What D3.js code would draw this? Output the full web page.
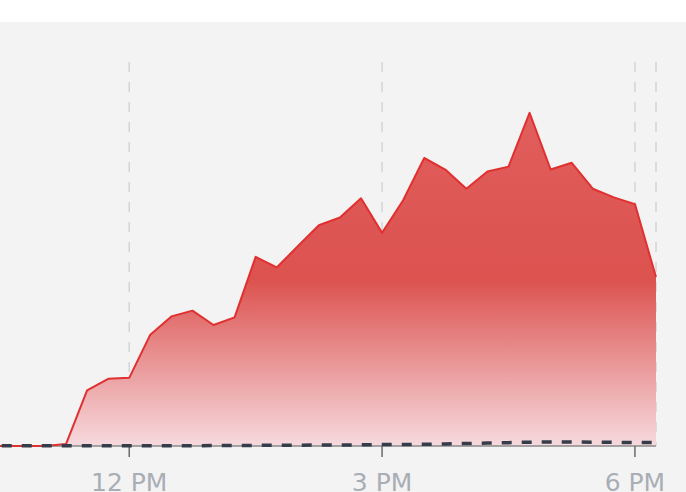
<!DOCTYPE html>
<html>
<head>
<meta charset="utf-8">
<script src="https://cdn.jsdelivr.net/npm/d3@7"></script>
<style>
    body { margin: 0; background: #ffffff; }
    .tick-label { font-family: "DejaVu Sans", sans-serif; font-size: 25px; fill: #a9adb5; }
</style>
</head>
<body>
<div id="chart"></div>
<script>
// quarter-hour samples
var times = ["10:15", "10:30", "10:45", "11:00", "11:15", "11:30", "11:45",
    "12:00", "12:15", "12:30", "12:45", "13:00", "13:15", "13:30", "13:45",
    "14:00", "14:15", "14:30", "14:45", "15:00", "15:15", "15:30", "15:45",
    "16:00", "16:15", "16:30", "16:45", "17:00", "17:15", "17:30", "17:45",
    "18:00", "18:15"];
var visits = [0, 0, 0, 0, 2, 58, 70,
    71, 116, 135, 141, 126, 134, 197, 186,
    208, 230, 238, 258, 222, 256, 300, 288,
    268, 286, 291, 347, 288, 295, 268, 259,
    252, 176];
var previous = [0.3, 0.3, 0.3, 0.3, 0.3, 0.3, 0.3,
    0.3, 0.3, 0.3, 0.3, 0.5, 0.5, 0.6, 0.8,
    0.8, 1, 1, 1.2, 1.5, 1.5, 1.8, 2.2,
    2.6, 3, 3.5, 4, 4.2, 4.2, 4, 3.8,
    3.6, 3.6];
var tickTimes = ["12:00", "15:00", "18:00"];
var tickLabels = ["12 PM", "3 PM", "6 PM"];

var width = 686, height = 492;

function toDate(t) {
    var p = t.split(':');
    return new Date(2020, 0, 1, +p[0], +p[1]);
}

var svg = d3.select("#chart").append("svg")
    .attr("width", width)
    .attr("height", height);

svg.append("rect").attr("width", width).attr("height", height).attr("fill", "#ffffff");
svg.append("rect").attr("y", 22).attr("width", width).attr("height", height - 22).attr("fill", "#f3f3f3");

var x = d3.scaleTime()
    .domain([toDate("10:28"), toDate("18:15")])
    .range([0, 656]);
var y = d3.scaleLinear()
    .domain([0, 400])
    .range([446, 62]);

var rows = times.map(function (t, i) {
    return { date: toDate(t), visits: visits[i], previous: previous[i] };
});

// gradient for the area
var defs = svg.append("defs");
var grad = defs.append("linearGradient")
    .attr("id", "areaFill")
    .attr("gradientUnits", "userSpaceOnUse")
    .attr("x1", 0).attr("x2", 0)
    .attr("y1", y(d3.max(visits))).attr("y2", y(0));
grad.append("stop").attr("offset", "0%").attr("stop-color", "#e05e5c");
grad.append("stop").attr("offset", "50%").attr("stop-color", "#dc524f");
grad.append("stop").attr("offset", "100%").attr("stop-color", "#f6dade");

// vertical grid
var gridTimes = tickTimes.map(toDate).concat([x.domain()[1]]);
svg.selectAll(".grid").data(gridTimes).enter().append("line")
    .attr("class", "grid")
    .attr("x1", function (d) { return x(d); })
    .attr("x2", function (d) { return x(d); })
    .attr("y1", 62).attr("y2", y(0))
    .attr("stroke", "#d5d5d5")
    .attr("stroke-width", 1.5)
    .attr("stroke-dasharray", "10,10");

var area = d3.area()
    .x(function (d) { return x(d.date); })
    .y0(y(0))
    .y1(function (d) { return y(d.visits); });
var line = d3.line()
    .x(function (d) { return x(d.date); })
    .y(function (d) { return y(d.visits); });
var prevLine = d3.line()
    .x(function (d) { return x(d.date); })
    .y(function (d) { return y(d.previous); });

svg.append("path").datum(rows)
    .attr("d", area)
    .attr("fill", "url(#areaFill)");

// x axis
var axis = svg.append("g").attr("transform", "translate(0," + y(0) + ")");
axis.append("line")
    .attr("x1", 0).attr("x2", x.range()[1])
    .attr("stroke", "#8a8a8a").attr("stroke-width", 1.5);
axis.selectAll(".tick").data(tickTimes).enter().append("line")
    .attr("x1", function (d) { return x(toDate(d)); })
    .attr("x2", function (d) { return x(toDate(d)); })
    .attr("y1", 0).attr("y2", 11)
    .attr("stroke", "#6b6b6b").attr("stroke-width", 1.5);
axis.selectAll(".tick-label").data(tickTimes).enter().append("text")
    .attr("class", "tick-label")
    .attr("x", function (d) { return x(toDate(d)); })
    .attr("y", 45)
    .attr("text-anchor", "middle")
    .text(function (d, i) { return tickLabels[i]; });

svg.append("path").datum(rows)
    .attr("d", line)
    .attr("fill", "none")
    .attr("stroke", "#e0302f")
    .attr("stroke-width", 2)
    .attr("stroke-linejoin", "round");

svg.append("path").datum(rows)
    .attr("d", prevLine)
    .attr("fill", "none")
    .attr("stroke", "#353d4b")
    .attr("stroke-width", 3.5)
    .attr("stroke-dasharray", "10,10");
</script>
</body>
</html>
